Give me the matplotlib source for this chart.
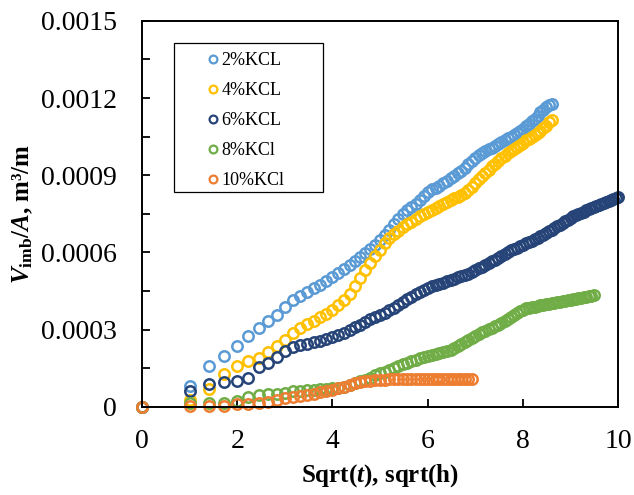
import numpy as np
import matplotlib
matplotlib.use("Agg")
import matplotlib.pyplot as plt
from matplotlib.patches import Rectangle
from matplotlib.ticker import MultipleLocator, FuncFormatter

# imbibed volume per area, in units of 1e-4 m3/m, sampled every hour (t = 0, 1, 2, ... h)
kcl2 = [0, 0.82, 1.57, 1.98, 2.37, 2.76, 3.06, 3.35, 3.57, 3.87,
        4.16, 4.30, 4.45, 4.60, 4.75, 4.90, 5.06, 5.20, 5.35, 5.50,
        5.68, 5.82, 5.98, 6.14, 6.30, 6.49, 6.68, 6.88, 7.10, 7.30,
        7.50, 7.65, 7.78, 7.90, 8.05, 8.20, 8.35, 8.45, 8.52, 8.60,
        8.68, 8.78, 8.88, 8.98, 9.08, 9.18, 9.30, 9.42, 9.55, 9.68,
        9.80, 9.88, 9.95, 10.00, 10.05, 10.12, 10.20, 10.30, 10.38, 10.45,
        10.50, 10.58, 10.65, 10.72, 10.80, 10.90, 11.00, 11.10, 11.20, 11.32,
        11.45, 11.55, 11.65, 11.72, 11.75]

kcl4 = [0, 0.27, 0.69, 1.28, 1.57, 1.80, 1.89, 2.15, 2.37, 2.60,
        2.89, 3.05, 3.22, 3.35, 3.50, 3.62, 3.77, 3.95, 4.15, 4.40,
        4.70, 5.00, 5.30, 5.60, 5.85, 6.10, 6.35, 6.55, 6.72, 6.85,
        6.98, 7.10, 7.20, 7.30, 7.40, 7.50, 7.58, 7.65, 7.72, 7.80,
        7.88, 7.96, 8.03, 8.10, 8.17, 8.24, 8.32, 8.42, 8.55, 8.70,
        8.85, 8.98, 9.10, 9.22, 9.35, 9.45, 9.55, 9.65, 9.75, 9.85,
        9.95, 10.02, 10.10, 10.18, 10.25, 10.35, 10.42, 10.50, 10.58, 10.65,
        10.72, 10.82, 10.92, 11.05, 11.15]

kcl6 = [0, 0.60, 0.88, 0.98, 1.02, 1.11, 1.54, 1.72, 1.95, 2.19,
        2.34, 2.42, 2.46, 2.52, 2.56, 2.62, 2.73, 2.80, 2.88, 2.98,
        3.10, 3.20, 3.30, 3.40, 3.48, 3.57, 3.66, 3.76, 3.86, 3.97,
        4.08, 4.18, 4.28, 4.38, 4.46, 4.55, 4.62, 4.68, 4.73, 4.77,
        4.82, 4.88, 4.93, 4.98, 5.03, 5.08, 5.13, 5.18, 5.23, 5.30,
        5.38, 5.45, 5.50, 5.58, 5.65, 5.72, 5.80, 5.88, 5.95, 6.03,
        6.08, 6.13, 6.18, 6.24, 6.29, 6.35, 6.40, 6.46, 6.51, 6.57,
        6.62, 6.68, 6.75, 6.82, 6.88, 6.95, 7.01, 7.08, 7.14, 7.21,
        7.27, 7.34, 7.40, 7.45, 7.49, 7.54, 7.58, 7.63, 7.67, 7.71,
        7.76, 7.80, 7.84, 7.89, 7.93, 7.97, 8.01, 8.05, 8.09, 8.13,
        8.17]

kcl8 = [0, 0.15, 0.17, 0.17, 0.22, 0.40, 0.45, 0.50, 0.52, 0.55,
        0.60, 0.62, 0.65, 0.66, 0.68, 0.70, 0.72, 0.74, 0.77, 0.84,
        0.92, 0.99, 1.06, 1.14, 1.22, 1.30, 1.37, 1.44, 1.51, 1.58,
        1.65, 1.72, 1.78, 1.84, 1.90, 1.94, 1.98, 2.02, 2.05, 2.08,
        2.12, 2.16, 2.20, 2.28, 2.36, 2.44, 2.52, 2.60, 2.68, 2.76,
        2.84, 2.90, 2.96, 3.02, 3.08, 3.14, 3.19, 3.25, 3.32, 3.40,
        3.48, 3.56, 3.64, 3.72, 3.78, 3.84, 3.86, 3.88, 3.90, 3.92,
        3.94, 3.96, 3.98, 4.00, 4.02, 4.04, 4.06, 4.08, 4.10, 4.12,
        4.14, 4.16, 4.18, 4.20, 4.22, 4.24, 4.26, 4.28, 4.30, 4.32,
        4.35]

kcl10 = [0, 0.04, 0.05, 0.04, 0.12, 0.12, 0.16, 0.20, 0.27, 0.34,
         0.40, 0.44, 0.47, 0.52, 0.56, 0.61, 0.66, 0.72, 0.78, 0.84,
         0.92, 0.96, 0.99, 1.01, 1.03, 1.05, 1.06, 1.07, 1.08, 1.08,
         1.09, 1.09, 1.08, 1.08, 1.08, 1.08, 1.08, 1.09, 1.09, 1.09,
         1.09, 1.10, 1.10, 1.10, 1.10, 1.10, 1.10, 1.10, 1.10]

labels = ["2%KCL", "4%KCL", "6%KCL", "8%KCl", "10%KCl"]
colors = ["#5B9BD5", "#FFC000", "#264478", "#70AD47", "#ED7D31"]
series = [kcl2, kcl4, kcl6, kcl8, kcl10]

plt.rcParams['font.family'] = ['Liberation Serif', 'DejaVu Serif']
plt.rcParams['mathtext.fontset'] = 'custom'
plt.rcParams['mathtext.rm'] = 'Liberation Serif:bold'
plt.rcParams['mathtext.it'] = 'Liberation Serif:bold:italic'
plt.rcParams['mathtext.bf'] = 'Liberation Serif:bold'

fig = plt.figure(figsize=(6.34, 4.95), dpi=100)
ax = fig.add_axes([0.224, 0.178, 0.751, 0.780])

for vals, lab, col in zip(series, labels, colors):
    hours = np.arange(len(vals))
    ax.plot(np.sqrt(hours), np.array(vals) * 1e-4, 'o', mfc='none', mec=col,
            ms=7.5, mew=1.8, label=lab, clip_on=False)

ax.set_xlim(0, 10)
ax.set_ylim(0, 0.0015)
ax.xaxis.set_major_locator(MultipleLocator(2))
ax.yaxis.set_major_locator(MultipleLocator(0.0003))
ax.yaxis.set_minor_locator(MultipleLocator(0.00015))
ax.yaxis.set_major_formatter(FuncFormatter(lambda v, p: "0" if abs(v) < 1e-12 else f"{v:.4f}"))
ax.tick_params(axis='both', which='both', direction='in', top=False, right=False,
               labelsize=20, width=1.3, length=6, colors='black')
ax.tick_params(axis='y', pad=18)
ax.tick_params(axis='x', pad=16)
for s in ax.spines.values():
    s.set_linewidth(1.4)
    s.set_color('black')

ax.set_xlabel(r'Sqrt($t$), sqrt(h)', fontsize=18, fontweight='bold', labelpad=6)
ax.set_ylabel(r'$V_{\mathrm{imb}}/A$, m³/m', fontsize=18, fontweight='bold', labelpad=4)

# legend box drawn separately so it can be wider than its entries
ax.add_patch(Rectangle((0.067, 0.557), 0.313, 0.386, transform=ax.transAxes,
                       fill=False, edgecolor='black', linewidth=0.9, zorder=5))
leg = ax.legend(loc='upper left', bbox_to_anchor=(0.138, 0.919), fontsize=13,
                frameon=False, handlelength=0.6, handletextpad=0.15,
                labelspacing=0.72, borderpad=0, markerscale=0.75, borderaxespad=0)
for h in leg.legend_handles:
    h.set_markeredgewidth(1.6)

fig.savefig("out.png", dpi=100)
